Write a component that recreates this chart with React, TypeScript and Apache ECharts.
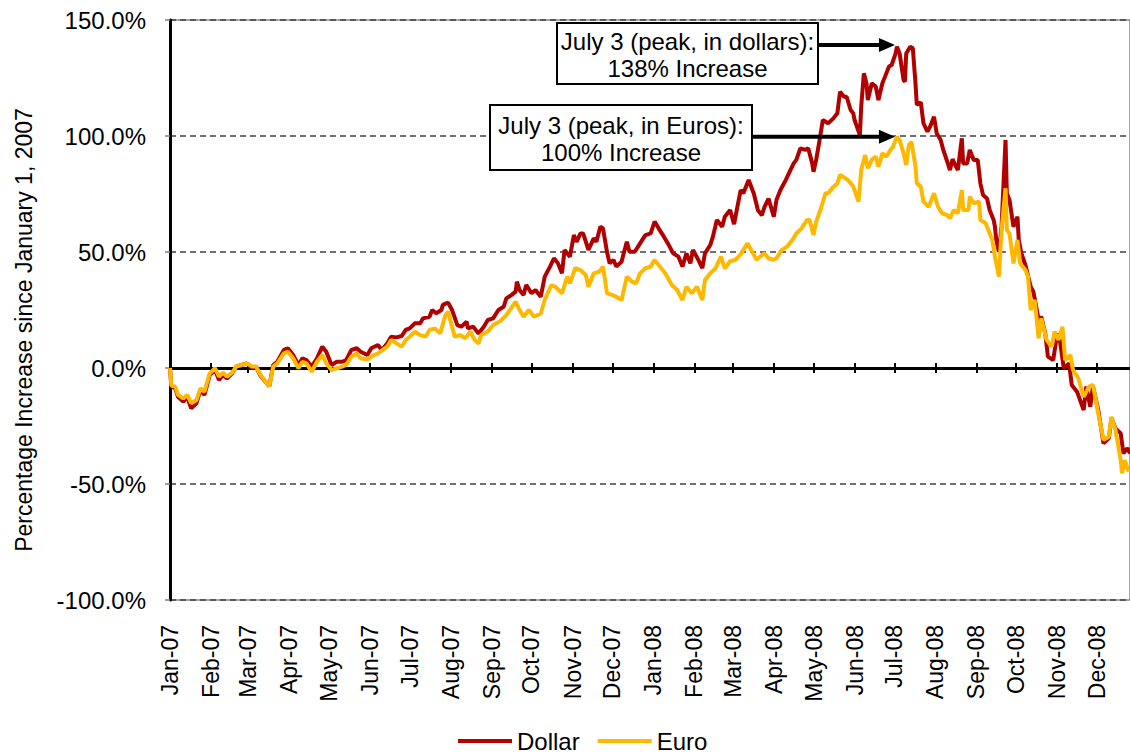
import React, { useEffect, useRef } from "react";
import * as echarts from "echarts";

// Month tick labels (first day of each month)
const monthLabels = [
  "Jan-07", "Feb-07", "Mar-07", "Apr-07", "May-07", "Jun-07", "Jul-07", "Aug-07", "Sep-07", "Oct-07", "Nov-07", "Dec-07",
  "Jan-08", "Feb-08", "Mar-08", "Apr-08", "May-08", "Jun-08", "Jul-08", "Aug-08", "Sep-08", "Oct-08", "Nov-08", "Dec-08",
];

// Days since January 1, 2007 and percentage increase (Dollar)
const dollarDays = [
  0, 1, 4, 6, 10, 13, 16, 20, 23, 26, 30, 34, 37, 40, 43, 47, 50, 54, 58, 62, 65, 68, 72, 75, 78, 81, 86, 89, 93, 97,
  100, 103, 107, 111, 115, 118, 122, 126, 130, 133, 137, 141, 144, 149, 152, 157, 160, 164, 167, 171, 175, 178, 181, 185, 189, 191, 196, 198,
  201, 205, 206, 210, 213, 217, 220, 224, 225, 229, 233, 237, 240, 244, 248, 252, 254, 258, 261, 262, 264, 267, 269, 273, 276, 280, 283, 287,
  290, 293, 296, 298, 302, 305, 307, 310, 312, 316, 320, 322, 325, 327, 330, 332, 335, 337, 341, 345, 347, 351, 355, 359, 363, 366, 369, 373,
  376, 380, 384, 387, 390, 393, 395, 399, 402, 404, 408, 410, 413, 417, 419, 423, 426, 429, 431, 433, 437, 441, 444, 447, 449, 452, 456, 458,
  461, 465, 468, 471, 473, 476, 480, 482, 485, 486, 488, 491, 493, 497, 501, 504, 506, 509, 511, 514, 516, 517, 521, 522, 524, 526, 527, 530,
  533, 535, 538, 540, 543, 545, 548, 549, 551, 554, 555, 556, 559, 561, 563, 564, 567, 569, 572, 574, 577, 579, 582, 584, 587, 589, 591, 593,
  595, 598, 599, 602, 604, 607, 610, 612, 614, 617, 619, 622, 623, 624, 626, 628, 631, 632, 634, 637, 640, 641, 643, 646, 650, 652, 653, 656,
  658, 661, 663, 667, 670, 672, 675, 679, 681, 685, 690, 692, 695, 697, 701, 705, 709, 711, 714, 718, 720, 723, 725,
];
const dollarPct = [
  0, -8, -8.8, -12.4, -14.5, -12.4, -17.4, -15.2, -9.5, -11.6, -3, -0.9, -5.2, -3, -4.5, -2.3, 0.6, 1.3, 2, -0.1, 0.6, -3, -5.9, -7.8, 1.3, 2.7, 7.8, 8.5, 5.6, 1.3,
  4.2, 3.4, 0.6, 4.2, 9.2, 7, 1.3, 2.7, 2.7, 3.4, 7.8, 8.5, 7, 5.6, 8.5, 9.9, 7.8, 10.6, 13.5, 13.2, 13.8, 16.4, 17.1, 19.3, 19.3, 21.4, 22.1, 25,
  23.6, 25, 27.2, 28.2, 25, 18.5, 17.8, 20, 17.1, 17.8, 14.9, 17.8, 20.7, 21.4, 25, 26.4, 30, 31.5, 32.9, 37.2, 33.6, 31.5, 35.8, 32.2, 33.6, 30.7, 39.4, 43.7,
  47.3, 45.1, 40.8, 50.9, 48, 57.3, 54.4, 58, 58, 50.9, 55.9, 54.4, 60.9, 60.2, 50.1, 45.1, 46.6, 43.7, 45.8, 54.4, 50.1, 50.1, 53.7, 57.3, 58, 63.1, 60.2, 56.6,
  53.7, 49.4, 48, 43.7, 49.4, 45.1, 50.9, 46.6, 43, 49.4, 53, 56.6, 63.8, 60.9, 65.2, 68.1, 62, 71, 76.7, 75.3, 81, 75, 68, 65.9, 69.5, 73, 65.2, 72.4,
  76.7, 81, 84.6, 88.2, 89.7, 94.7, 94, 94.7, 88.2, 84.6, 89.7, 99.7, 106.9, 105.5, 107.6, 109.8, 119.1, 116.9, 116.9, 111.2, 109.8, 106.9, 100.4, 112.6, 127, 122.7, 115.5, 122.7,
  121.3, 115.5, 122.7, 125.6, 130, 130.6, 135.6, 138.5, 135.6, 124.1, 123.4, 135.6, 138.5, 137.8, 122.7, 113.4, 114.5, 105.5, 101.9, 104, 108.3, 101.2, 98.3, 94, 88.9, 85.3, 90, 87.5,
  85.3, 99, 88.2, 88.2, 94, 89.7, 89.7, 79.6, 74.6, 73.1, 68.1, 63.8, 60.9, 55.2, 50.1, 60.9, 98.3, 75.3, 72.4, 60.9, 65.2, 55.2, 49.4, 44.4, 35, 32.9, 30, 20.7,
  22.1, 14.9, 4.9, 3.4, 14.9, 12.1, -0.1, 2, -7.3, -10.2, -18.1, -8, -16.7, -8, -18.1, -32.5, -30.3, -21.7, -26, -28.2, -36.8, -34.6, -36.8,
];

// Days since January 1, 2007 and percentage increase (Euro)
const euroDays = [
  0, 1, 4, 6, 10, 13, 16, 20, 23, 26, 30, 34, 37, 40, 43, 47, 50, 54, 58, 62, 65, 68, 72, 75, 78, 81, 86, 89, 93, 97,
  100, 103, 107, 111, 115, 118, 122, 126, 130, 133, 137, 141, 144, 149, 154, 157, 164, 167, 171, 175, 178, 181, 185, 189, 193, 196, 200, 204,
  208, 210, 215, 219, 223, 227, 230, 233, 235, 240, 244, 249, 254, 261, 264, 267, 271, 275, 280, 283, 288, 291, 296, 300, 302, 306, 310, 314,
  316, 320, 324, 327, 330, 334, 337, 341, 345, 349, 352, 355, 359, 363, 366, 370, 374, 379, 383, 387, 390, 394, 398, 402, 404, 408, 412, 416,
  419, 423, 427, 431, 436, 439, 443, 447, 449, 452, 456, 458, 462, 466, 470, 473, 477, 481, 483, 486, 488, 492, 495, 497, 500, 504, 506, 510,
  512, 516, 520, 522, 525, 527, 530, 533, 535, 538, 541, 544, 546, 549, 551, 554, 556, 558, 560, 563, 564, 567, 569, 573, 577, 580, 583, 587,
  589, 592, 595, 598, 599, 603, 604, 607, 611, 612, 616, 618, 621, 623, 626, 628, 631, 632, 634, 637, 640, 642, 646, 648, 650, 653, 656, 658,
  662, 666, 668, 671, 674, 676, 680, 682, 686, 690, 694, 697, 701, 705, 709, 711, 714, 718, 719, 721, 724,
];
const euroPct = [
  0, -7.6, -8, -11.6, -13.1, -11.6, -15.2, -13.8, -8.8, -10.2, -2.3, -0.1, -3.7, -2, -3.7, -2, 0.6, 1.3, 2, 0.6, 0.6, -2.6, -5.9, -7.8, 0.6, 2, 6.3, 7, 4.2, -0.1,
  2.7, 2, -1.6, 2.7, 5.6, 2, -0.9, -0.1, 0.6, 1.3, 4.9, 6.3, 4.2, 3.7, 5.6, 6.3, 9.2, 12.1, 10.6, 9.2, 12.1, 13.5, 15.7, 14.2, 13.5, 16.4, 17.1, 14.9,
  22.8, 24.3, 13.5, 14.2, 12.8, 15.7, 12.1, 10.6, 14.2, 15.7, 18.5, 20, 22.8, 28.6, 25, 22.1, 25, 22.1, 23.5, 29.3, 35.8, 35, 32.2, 39.4, 36.5, 43, 42.2, 40.1,
  35, 40.8, 41.5, 43.7, 32.2, 31.5, 30.7, 29.3, 39.4, 37.2, 36.5, 40.8, 43, 43.7, 46.6, 43.7, 40.8, 35.8, 33.6, 29.3, 35, 32.2, 35, 29.3, 37.9, 40.8, 43, 48,
  43, 46, 46.6, 49, 53.7, 50.9, 46.6, 48.7, 49.4, 47.3, 46.6, 47.3, 50.9, 52.3, 55.2, 58, 60.2, 63.8, 63.8, 57.3, 63.1, 69.5, 75.3, 75.3, 77.5, 79.6, 83.2, 81.8,
  81, 78.2, 71.7, 85.3, 91.8, 86.1, 89.7, 91.1, 86.8, 92.5, 91.1, 94, 95.4, 99.7, 98.3, 92.5, 87.5, 96.1, 97.5, 86.8, 79.6, 78.2, 71.7, 69.5, 75.3, 69.5, 66.7, 65.9,
  64.5, 68.1, 66.7, 76.7, 68.1, 68.1, 73.8, 71, 71.7, 63.8, 62.4, 59.5, 55.2, 48, 39.4, 59.5, 77.5, 59.5, 58, 45.1, 55.2, 45.1, 42.2, 39.4, 25, 29.3, 12.8, 21.4,
  12.1, 9.2, 15.7, 12.1, 17.8, 3.4, 5.6, -0.9, -4.5, -12.4, -8, -7.3, -19.5, -31, -29.6, -21, -26.7, -39.7, -45.4, -39.7, -44.7,
];

const seriesNames = ["Dollar", "Euro"];
const yAxisTitle = "Percentage Increase since January 1, 2007";
const dollarNote = "July 3 (peak, in dollars):\n138% Increase";
const euroNote = "July 3 (peak, in Euros):\n100% Increase";

const START = Date.UTC(2007, 0, 1);
const monthOffsets = monthLabels.map(
  (_, i) => (Date.UTC(2007 + Math.floor(i / 12), i % 12, 1) - START) / 86400000
);
const X_MAX = 725;
const FONT = "Liberation Sans, Arial, Helvetica, sans-serif";
const DOLLAR_COLOR = "#B00000";
const EURO_COLOR = "#FFB800";

export default function App() {
  const ref = useRef<HTMLDivElement>(null);

  useEffect(() => {
    if (!ref.current) return;
    const chart = echarts.init(ref.current, null, { renderer: "svg" });
    const dollarData = dollarDays.map((d, i) => [d, dollarPct[i]]);
    const euroData = euroDays.map((d, i) => [d, euroPct[i]]);

    const xLabelFmt = (v: number) => {
      const i = monthOffsets.indexOf(Math.round(v));
      return i >= 0 ? monthLabels[i] : "";
    };

    chart.setOption({
      animation: false,
      backgroundColor: "#ffffff",
      grid: {
        left: 170,
        right: 0,
        top: 20,
        bottom: 154,
        show: true,
        borderColor: "#868686",
        borderWidth: 1.5,
        backgroundColor: "transparent",
      },
      legend: {
        data: [
          { name: seriesNames[0], icon: "rect", itemStyle: { color: DOLLAR_COLOR } },
          { name: seriesNames[1], icon: "rect", itemStyle: { color: EURO_COLOR } },
        ],
        left: 458,
        top: 729,
        padding: 0,
        itemWidth: 54,
        itemHeight: 4,
        itemGap: 18,
        textStyle: { fontSize: 24, color: "#000", fontFamily: FONT, lineHeight: 24 },
      },
      xAxis: [
        {
          type: "value",
          min: 0,
          max: X_MAX,
          position: "bottom",
          axisLine: { show: false, onZero: false },
          axisTick: { show: false },
          splitLine: { show: false },
          axisLabel: {
            customValues: monthOffsets,
            formatter: xLabelFmt,
            rotate: 90,
            fontSize: 23,
            color: "#000",
            margin: 25,
            fontFamily: FONT,
            hideOverlap: false,
          },
        },
        {
          type: "value",
          min: 0,
          max: X_MAX,
          position: "bottom",
          axisLine: { show: true, onZero: true, onZeroAxisIndex: 0, lineStyle: { color: "#000", width: 3 } },
          axisTick: { show: true, customValues: monthOffsets, inside: true, length: 5, lineStyle: { color: "#000", width: 2 } },
          axisLabel: { show: false },
          splitLine: { show: false },
        },
        {
          type: "value",
          min: 0,
          max: X_MAX,
          position: "bottom",
          axisLine: { show: false, onZero: true, onZeroAxisIndex: 0 },
          axisTick: { show: true, customValues: monthOffsets, inside: false, length: 5, lineStyle: { color: "#000", width: 2 } },
          axisLabel: { show: false },
          splitLine: { show: false },
        },
      ],
      yAxis: {
        type: "value",
        min: -100,
        max: 150,
        interval: 50,
        axisLine: { show: true, onZero: false, lineStyle: { color: "#000", width: 3 } },
        axisTick: { show: true, length: 5, lineStyle: { color: "#808080", width: 1.5 } },
        axisLabel: {
          formatter: (v: number) => v.toFixed(1) + "%",
          fontSize: 24,
          color: "#000",
          margin: 24,
          fontFamily: FONT,
        },
        splitLine: { show: true, lineStyle: { type: [6, 4], color: "#404040", width: 1.5 } },
      },
      series: [
        {
          name: seriesNames[0],
          type: "line",
          data: dollarData,
          symbol: "none",
          lineStyle: { color: DOLLAR_COLOR, width: 4 },
          itemStyle: { color: DOLLAR_COLOR },
        },
        {
          name: seriesNames[1],
          type: "line",
          data: euroData,
          symbol: "none",
          lineStyle: { color: EURO_COLOR, width: 4 },
          itemStyle: { color: EURO_COLOR },
        },
      ],
    });

    // Peak positions for the arrows
    const dMax = Math.max(...dollarPct);
    const eMax = Math.max(...euroPct);
    const dIdx = dollarPct.indexOf(dMax);
    const eIdx = euroPct.indexOf(eMax);
    const dTip = chart.convertToPixel({ gridIndex: 0 }, [dollarDays[dIdx], dMax]) as number[];
    const eTip = chart.convertToPixel({ gridIndex: 0 }, [euroDays[eIdx], eMax]) as number[];

    const box1 = { x: 557, y: 23, w: 261, h: 61 };
    const box2 = { x: 490, y: 105, w: 262, h: 65 };
    const a1y = 45;
    const a2y = eTip[1];
    const a1x = dTip[0] - 2;
    const a2x = eTip[0] - 2;
    const headL = 16;
    const headH = 7;

    chart.setOption({
      graphic: [
        {
          type: "text",
          x: 24,
          y: 330,
          rotation: Math.PI / 2,
          style: {
            text: yAxisTitle,
            fontSize: 23,
            fontFamily: FONT,
            fill: "#000",
            textAlign: "center",
            textVerticalAlign: "middle",
          },
        },
        {
          type: "rect",
          shape: { x: box1.x, y: box1.y, width: box1.w, height: box1.h },
          style: { fill: "#fff", stroke: "#000", lineWidth: 2 },
          z: 100,
        },
        {
          type: "text",
          x: box1.x + box1.w / 2,
          y: box1.y + box1.h / 2 + 1,
          style: {
            text: dollarNote,
            fontSize: 24,
            lineHeight: 27,
            fontFamily: FONT,
            fill: "#000",
            textAlign: "center",
            textVerticalAlign: "middle",
          },
          z: 101,
        },
        {
          type: "rect",
          shape: { x: box2.x, y: box2.y, width: box2.w, height: box2.h },
          style: { fill: "#fff", stroke: "#000", lineWidth: 2 },
          z: 100,
        },
        {
          type: "text",
          x: box2.x + box2.w / 2,
          y: box2.y + box2.h / 2 + 1,
          style: {
            text: euroNote,
            fontSize: 24,
            lineHeight: 27,
            fontFamily: FONT,
            fill: "#000",
            textAlign: "center",
            textVerticalAlign: "middle",
          },
          z: 101,
        },
        {
          type: "line",
          shape: { x1: box1.x + box1.w, y1: a1y, x2: a1x - headL + 2, y2: a1y },
          style: { stroke: "#000", lineWidth: 4 },
          z: 100,
        },
        {
          type: "polygon",
          shape: { points: [[a1x, a1y], [a1x - headL, a1y - headH], [a1x - headL, a1y + headH]] },
          style: { fill: "#000" },
          z: 100,
        },
        {
          type: "line",
          shape: { x1: box2.x + box2.w, y1: a2y, x2: a2x - headL + 2, y2: a2y },
          style: { stroke: "#000", lineWidth: 4 },
          z: 100,
        },
        {
          type: "polygon",
          shape: { points: [[a2x, a2y], [a2x - headL, a2y - headH], [a2x - headL, a2y + headH]] },
          style: { fill: "#000" },
          z: 100,
        },
      ],
    });

    return () => chart.dispose();
  }, []);

  return (
    <div
      ref={ref}
      style={{ position: "absolute", left: 0, top: 0, width: 1130, height: 754, background: "#fff" }}
    />
  );
}
